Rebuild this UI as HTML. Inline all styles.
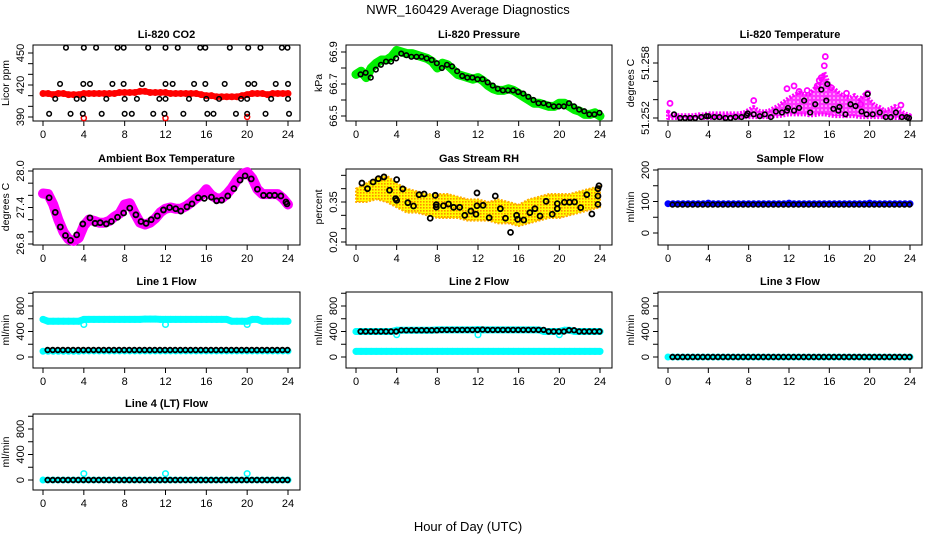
<!DOCTYPE html>
<html><head><meta charset="utf-8"><style>
body{margin:0;background:#fff}
svg{display:block;font-family:"Liberation Sans",sans-serif}
</style></head><body>
<svg id="c" width="936" height="540" viewBox="0 0 936 540" xmlns="http://www.w3.org/2000/svg">
<defs>
<pattern id="rhpat" width="3" height="3" patternUnits="userSpaceOnUse"><rect width="3" height="3" fill="#ffff00"/><rect width="1.6" height="1.6" fill="#ff8c00"/></pattern>
<pattern id="tpat" width="4" height="4" patternUnits="userSpaceOnUse"><rect width="4" height="4" fill="#ff33ff"/><circle cx="2" cy="2" r="0.8" fill="#ffffff"/></pattern>
</defs>
<text x="468" y="14" text-anchor="middle" font-size="13">NWR_160429  Average Diagnostics</text>
<text x="468" y="531" text-anchor="middle" font-size="13">Hour of Day (UTC)</text>
</svg>
<script>
// ---- data ----
const halfHours = [0,0.5,1,1.5,2,2.5,3,3.5,4,4.5,5,5.5,6,6.5,7,7.5,8,8.5,9,9.5,10,10.5,11,11.5,12,12.5,13,13.5,14,14.5,15,15.5,16,16.5,17,17.5,18,18.5,19,19.5,20,20.5,21,21.5,22,22.5,23,23.5,24];
const co2Red = [412,412,411,412,412,411,411,411,412,412,412,412,412,412,412,413,413,413,413,414,414,413,413,413,413,412,412,412,412,412,412,411,410,410,409,409,409,409,409,410,411,412,412,412,411,412,412,412,412];
const co2RedOutHours = [4,12,20];
const co2RedOut = [389,389,390];
const co2BlackHours = [2.25,4.0,5.2,7.3,7.9,10.3,12.0,13.2,15.4,15.9,18.3,20.1,21.3,23.4,23.95,
 1.67,3.95,4.6,6.8,7.9,9.7,12.0,12.7,14.8,15.9,17.8,20.1,20.7,22.8,24.0,
 1.2,3.3,3.95,6.2,8.0,9.2,11.4,12.0,14.3,16.0,17.25,19.4,20.0,22.35,24.0,
 0.6,2.7,3.9,5.75,8.0,8.7,10.8,11.9,13.75,16.1,16.7,18.9,20.0,21.8,24.1];
const co2Black = [455,455,455,455,455,455,455,455,455,455,455,455,455,455,455,
 421,421,421,421,421,421,421,421,421,421,421,421,421,421,421,
 407,407,407,407,407,407,407,407,407,407,407,407,407,407,407,
 393,393,393,393,393,393,393,393,393,393,393,393,393,393,393];
const pressGreen = [66.76,66.78,66.74,66.80,66.83,66.85,66.85,66.87,66.91,66.90,66.89,66.89,66.88,66.87,66.86,66.84,66.80,66.83,66.82,66.79,66.76,66.75,66.74,66.73,66.74,66.72,66.69,66.67,66.66,66.66,66.67,66.66,66.64,66.62,66.60,66.58,66.58,66.57,66.56,66.56,66.58,66.58,66.56,66.54,66.53,66.51,66.51,66.52,66.50];
const pressBlack = [66.76,66.77,66.74,66.79,66.82,66.84,66.84,66.86,66.89,66.88,66.87,66.87,66.87,66.86,66.85,66.83,66.80,66.82,66.81,66.78,66.75,66.74,66.74,66.73,66.73,66.71,66.69,66.67,66.66,66.66,66.66,66.65,66.64,66.62,66.60,66.58,66.58,66.57,66.56,66.56,66.56,66.58,66.56,66.54,66.53,66.51,66.51,66.52,66.50];
const tempMagHi = [51.2527,51.2523,51.2523,51.2523,51.2523,51.2523,51.2524,51.2524,51.2525,51.2525,51.2525,51.2525,51.2525,51.2525,51.2525,51.2526,51.2529,51.2532,51.2528,51.2527,51.2528,51.2531,51.2534,51.2538,51.2542,51.2545,51.2548,51.2546,51.2546,51.2552,51.2556,51.2570,51.2556,51.2552,51.2547,51.2544,51.2542,51.2545,51.2540,51.2546,51.2540,51.2534,51.2532,51.2528,51.2530,51.2533,51.2528,51.2525,51.2523];
const tempMagLo = [51.2520,51.2520,51.2520,51.2520,51.2520,51.2520,51.2520,51.2520,51.2520,51.2520,51.2520,51.2520,51.2520,51.2520,51.2520,51.2521,51.2521,51.2521,51.2521,51.2521,51.2521,51.2522,51.2522,51.2523,51.2524,51.2524,51.2524,51.2524,51.2523,51.2523,51.2524,51.2524,51.2523,51.2522,51.2522,51.2522,51.2522,51.2522,51.2521,51.2521,51.2521,51.2521,51.2521,51.2521,51.2520,51.2520,51.2520,51.2520,51.2520];
const tempOutHours = [0.2,8.5,11.8,12.5,13.0,13.8,14.8,15.0,15.2,15.5,15.6,16.2,17.7,19.1,19.8,23.1];
const tempOut = [51.2536,51.2539,51.2552,51.2555,51.2549,51.2550,51.2555,51.2561,51.2564,51.2577,51.2587,51.2553,51.2547,51.2535,51.2547,51.2534];
const tempBlackHours = [0.6,1.2,1.7,2.2,2.7,3.3,3.8,4.0,4.6,5.1,5.7,6.2,6.7,7.3,7.8,7.9,8.5,9.1,9.6,10.2,10.7,11.3,11.8,11.9,12.5,13.0,13.5,14.1,14.6,15.2,15.7,15.8,16.4,16.9,17.0,17.6,18.1,18.6,19.2,19.7,19.8,20.3,21.0,21.6,22.1,22.6,23.2,23.7,23.9];
const tempBlack = [51.2524,51.2520,51.2520,51.2520,51.2520,51.2521,51.2522,51.2522,51.2521,51.2521,51.2520,51.2520,51.2521,51.2521,51.2523,51.2525,51.2524,51.2522,51.2524,51.2521,51.2527,51.2526,51.2528,51.2531,51.2528,51.2531,51.2539,51.2526,51.2535,51.2551,51.2539,51.2557,51.2530,51.2528,51.2532,51.2524,51.2535,51.2533,51.2527,51.2524,51.2546,51.2524,51.2526,51.2521,51.2521,51.2526,51.2521,51.2521,51.2520];
const ambMag = [27.63,27.62,27.45,27.20,27.00,26.88,26.85,26.90,27.10,27.20,27.18,27.15,27.15,27.18,27.25,27.30,27.45,27.47,27.30,27.15,27.12,27.15,27.22,27.32,27.38,27.40,27.38,27.38,27.42,27.48,27.55,27.60,27.70,27.60,27.55,27.55,27.62,27.72,27.85,27.95,27.98,27.88,27.70,27.62,27.62,27.62,27.62,27.55,27.45];
const ambBlackHours = [0.6,1.2,1.7,2.2,2.7,3.3,3.9,4.6,5.1,5.6,6.2,6.7,7.3,7.9,8.5,9.1,9.6,10.1,10.6,11.2,11.8,12.4,13.0,13.5,14.1,14.6,15.2,15.8,16.5,17.0,17.5,18.1,18.7,19.3,19.8,20.4,21.0,21.6,22.2,22.7,23.3,23.8,23.9];
const ambBlack = [27.56,27.32,27.08,26.94,26.86,26.95,27.13,27.23,27.14,27.15,27.13,27.17,27.24,27.31,27.39,27.28,27.17,27.14,27.20,27.26,27.36,27.40,27.38,27.34,27.41,27.46,27.56,27.55,27.57,27.51,27.52,27.59,27.71,27.85,27.92,27.87,27.70,27.60,27.60,27.60,27.59,27.49,27.46];
const rhHours = [0,1,2,3,4,5,6,7,8,9,10,11,12,13,14,15,16,17,18,19,20,21,22,23,24];
const rhHi = [0.40,0.42,0.44,0.45,0.42,0.40,0.39,0.38,0.38,0.38,0.37,0.36,0.36,0.35,0.36,0.35,0.34,0.36,0.37,0.38,0.38,0.38,0.39,0.40,0.41];
const rhLo = [0.35,0.35,0.36,0.35,0.33,0.31,0.31,0.30,0.29,0.29,0.29,0.28,0.28,0.28,0.27,0.27,0.26,0.27,0.28,0.29,0.29,0.30,0.31,0.32,0.33];
const rhBlackHours = [0.58,1.13,1.68,2.2,2.75,3.3,3.9,4.0,4.0,4.6,5.1,5.66,6.2,6.7,7.3,7.8,7.9,7.9,8.6,9.1,9.6,10.2,10.7,11.3,11.8,11.9,11.9,12.5,13.1,13.7,14.2,14.7,15.2,15.8,15.9,16.5,17.1,17.6,18.1,18.7,19.3,19.8,19.8,20.5,21.0,21.5,22.1,22.7,23.2,23.8,23.8,23.8,23.9];
const rhBlack = [0.421,0.40,0.425,0.4375,0.444,0.394,0.3625,0.356,0.434,0.399,0.3475,0.335,0.3775,0.38,0.289,0.375,0.34,0.331,0.336,0.3425,0.33,0.33,0.30,0.316,0.304,0.384,0.336,0.3375,0.291,0.3725,0.325,0.289,0.236,0.30,0.285,0.2825,0.31,0.325,0.2975,0.3525,0.304,0.344,0.325,0.349,0.349,0.35,0.329,0.3775,0.305,0.341,0.3725,0.40,0.411];
const sampleBlue = [93,93,93,93,93,93,93,93,95,93,93,93,93,93,93,93,93,93,93,93,93,93,93,93,95,93,93,93,93,93,93,93,93,93,93,93,93,93,93,93,95,93,93,93,93,93,93,93,93];
const sampleBlack = [90,90,90,90,90,90,90,90,90,90,90,90,90,90,90,90,90,90,90,90,90,90,90,90,90,90,90,90,90,90,90,90,90,90,90,90,90,90,90,90,90,90,90,90,90,90,90,90,90];
const line1CyanHi = [590,560,560,560,560,560,560,560,590,590,590,590,590,590,590,590,590,590,590,590,595,595,595,590,590,590,590,590,590,590,590,590,590,590,590,590,590,560,560,560,560,590,590,560,560,560,560,560,560];
const line1CyanLo = [90,90,90,90,90,90,90,90,95,95,95,95,95,95,95,95,95,95,95,95,95,95,95,95,95,95,95,95,95,95,95,95,95,95,95,95,95,95,95,95,95,95,95,95,95,95,95,95,95];
const line1Black = [110,110,110,110,110,110,110,110,110,110,110,110,110,110,110,110,110,110,110,110,110,110,110,110,110,110,110,110,110,110,110,110,110,110,110,110,110,110,110,110,110,110,110,110,110,110,110,110,110];
const flowDipHours = [4,12,20];
const line1Dip = [510,510,510];
const line2Black = [400,400,400,400,400,400,400,400,420,420,420,420,420,420,420,420,425,425,425,425,425,425,425,425,430,425,425,425,425,425,425,425,425,425,425,425,425,400,400,400,400,420,420,400,400,400,400,400,400];
const line2CyanLo = [88,88,88,88,88,88,88,88,88,88,88,88,88,88,88,88,88,88,88,88,88,88,88,88,88,88,88,88,88,88,88,88,88,88,88,88,88,88,88,88,88,88,88,88,88,88,88,88,88];
const line2Dip = [350,350,350];
const line3Black = [0,0,0,0,0,0,0,0,0,0,0,0,0,0,0,0,0,0,0,0,0,0,0,0,0,0,0,0,0,0,0,0,0,0,0,0,0,0,0,0,0,0,0,0,0,0,0,0,0];
const line4Spike = [100,100,100];

// ---- drawing ----
const NS = "http://www.w3.org/2000/svg";
const svg = document.getElementById('c');
function mk(tag, attrs, parent){const e=document.createElementNS(NS,tag);for(const k in attrs)e.setAttribute(k,attrs[k]);(parent||svg).appendChild(e);return e;}
const colL=[33,346,658], colR=[300,612,922], rowT=[45,169,292,414], H=76;

function panel(name,col,row,title,ylab,v1,o1,v2,o2,ticks,labels){
  const L=colL[col],R=colR[col],T=rowT[row],B=T+H;
  const g=mk('g',{});
  
  
  const xs=h=>L+10+h*(R-L-22)/24;
  const y1=T+o1,y2=T+o2;
  const ys=v=>y1+(v-v1)*(y2-y1)/(v2-v1);
  const fr=mk('rect',{x:L,y:T,width:R-L,height:H,fill:'none',stroke:'#000','stroke-width':1},g);
  
  
  const t=mk('text',{x:(L+R)/2,y:T-7,'text-anchor':'middle','font-size':11,'font-weight':'bold'},g);t.textContent=title;
  
  
  const yt=mk('text',{transform:`translate(${L-24},${(T+B)/2}) rotate(-90)`,'text-anchor':'middle','font-size':10.5},g);yt.textContent=ylab;
  
  
  const xa=mk('g',{},g);
  
  
  [0,4,8,12,16,20,24].forEach(h=>{mk('line',{x1:xs(h),x2:xs(h),y1:B,y2:B+5,stroke:'#000'},xa);
    const l=mk('text',{x:xs(h),y:B+17,'text-anchor':'middle','font-size':11},xa);l.textContent=h;});
  const ya=mk('g',{},g);
  
  
  ticks.forEach((v,i)=>{const y=ys(v);if(y<T-1||y>B+1)return;mk('line',{x1:L-5,x2:L,y1:y,y2:y,stroke:'#000'},ya);
    if(labels[i]!==''){const l=mk('text',{transform:`translate(${L-9},${y}) rotate(-90)`,'text-anchor':'middle','font-size':11},ya);l.textContent=labels[i];}});
  const clip='clip-'+name;
  const cp=mk('clipPath',{id:clip},svg);mk('rect',{x:L,y:T-6,width:R-L,height:H+12},cp);
  const d=mk('g',{'clip-path':`url(#${clip})`},g);
  
  
  return {xs,ys,g:d};
}
function pts(p,name,hours,vals,color,r,sw,band){
  const s=mk('g',{},p.g);
  
  
  if(band){mk('polyline',{points:hours.map((h,i)=>p.xs(h)+','+p.ys(vals[i])).join(' '),fill:'none',stroke:color,'stroke-width':band,'stroke-linejoin':'round','stroke-linecap':'round'},s);}
  hours.forEach((h,i)=>{const c=mk('circle',{cx:p.xs(h),cy:p.ys(vals[i]),r:r,fill:'none',stroke:color,'stroke-width':sw},s);
    
    });
}
function bandArea(p,name,hours,hi,lo,fill,stroke,sw){
  const a=hours.map((h,i)=>p.xs(h)+','+p.ys(hi[i])).concat(hours.slice().reverse().map((h,i)=>p.xs(h)+','+p.ys(lo[hours.length-1-i])));
  const e=mk('polygon',{points:a.join(' '),fill:fill,stroke:stroke,'stroke-width':sw,'stroke-linejoin':'round','stroke-dasharray':'2 1.5'},p.g);
  
  
}
const blackHalf=halfHours.slice(1).map(h=>h-0.05);

// Li-820 CO2
let p=panel('co2',0,0,'Li-820 CO2','Licor ppm',390,72,450,8,[390,400,410,420,430,440,450],['390','','','420','','','450']);
pts(p,'co2-red-series',halfHours,co2Red,'#ff0000',2.5,2,6);
pts(p,'co2-red-outliers',co2RedOutHours,co2RedOut,'#ff0000',2.5,1.5,0);
pts(p,'co2-black-series',co2BlackHours,co2Black,'#000',2.3,1.5,0);
// Pressure
p=panel('pressure',1,0,'Li-820 Pressure','kPa',66.5,71,66.9,7,[66.5,66.6,66.7,66.8,66.9],['66.5','','66.7','','66.9']);
pts(p,'pressure-green-series',halfHours,pressGreen,'#00ee00',2.8,2.5,9);
pts(p,'pressure-black-series',blackHalf,pressBlack,'#000',2.3,1.6,0);
// Li-820 Temperature
p=panel('li820-temp',2,0,'Li-820 Temperature','degrees C',51.252,73,51.258,18,[51.252,51.254,51.256,51.258],['51.252','','','51.258']);
bandArea(p,'temp-magenta-band',halfHours,tempMagHi,tempMagLo,'url(#tpat)','#ff00ff',4);
pts(p,'temp-magenta-outliers',tempOutHours,tempOut,'#ff00ff',2.5,1.8,0);
pts(p,'temp-black-series',tempBlackHours,tempBlack,'#000',2.3,1.6,0);
// Ambient
p=panel('ambient-temp',0,1,'Ambient Box Temperature','degrees C',26.8,75,28.0,2,[26.8,27.0,27.2,27.4,27.6,27.8,28.0],['26.8','','','27.4','','','28.0']);
pts(p,'ambient-magenta-series',halfHours,ambMag,'#ff00ff',3,2.5,10);
pts(p,'ambient-black-series',ambBlackHours,ambBlack,'#000',2.5,1.8,0);
// RH
p=panel('gas-rh',1,1,'Gas Stream RH','percent',0.20,73,0.35,33,[0.20,0.25,0.30,0.35,0.40,0.45],['0.20','','','0.35','','']);
bandArea(p,'rh-yellow-orange-band',rhHours,rhHi,rhLo,'url(#rhpat)','#ffb000',2);
pts(p,'rh-black-series',rhBlackHours,rhBlack,'#000',2.5,1.8,0);
// Sample flow
p=panel('sample-flow',2,1,'Sample Flow','ml/min',0,64,200,1,[0,50,100,150,200],['0','','100','','200']);
pts(p,'sample-blue-series',halfHours,sampleBlue,'#0000ff',2.5,2,5);
pts(p,'sample-black-series',blackHalf,sampleBlack,'#000',2.3,1.6,0);
const flowTicks=[0,200,400,600,800,1000], flowLabels=['0','','400','','800',''];
// Line 1
p=panel('line1-flow',0,2,'Line 1 Flow','ml/min',0,65,800,14,flowTicks,flowLabels);
pts(p,'line1-cyan-upper',halfHours,line1CyanHi,'#00ffff',2.5,2,7);
pts(p,'line1-cyan-lower',halfHours,line1CyanLo,'#00ffff',2.5,2,4);
pts(p,'line1-cyan-dips',flowDipHours,line1Dip,'#00ffff',2.8,1.5,0);
pts(p,'line1-black-series',blackHalf,line1Black,'#000',2.3,1.8,0);
// Line 2
p=panel('line2-flow',1,2,'Line 2 Flow','ml/min',0,65,800,14,flowTicks,flowLabels);
pts(p,'line2-cyan-upper',halfHours,line2Black,'#00ffff',2.5,2,7);
pts(p,'line2-cyan-lower',halfHours,line2CyanLo,'#00ffff',2.5,2,7);
pts(p,'line2-cyan-dips',flowDipHours,line2Dip,'#00ffff',2.8,1.5,0);
pts(p,'line2-black-series',blackHalf,line2Black,'#000',2.3,1.8,0);
// Line 3
p=panel('line3-flow',2,2,'Line 3 Flow','ml/min',0,65,800,14,flowTicks,flowLabels);
pts(p,'line3-cyan-series',halfHours,line3Black,'#00ffff',2.5,2,5);
pts(p,'line3-black-series',blackHalf,line3Black,'#000',2.3,1.8,0);
// Line 4
p=panel('line4-flow',0,3,'Line 4 (LT) Flow','ml/min',0,66,800,15,flowTicks,flowLabels);
pts(p,'line4-cyan-series',halfHours,line3Black,'#00ffff',2.5,2,5);
pts(p,'line4-cyan-spikes',flowDipHours,line4Spike,'#00ffff',2.8,1.5,0);
pts(p,'line4-black-series',blackHalf,line3Black,'#000',2.3,1.8,0);
</script>
</body></html>
